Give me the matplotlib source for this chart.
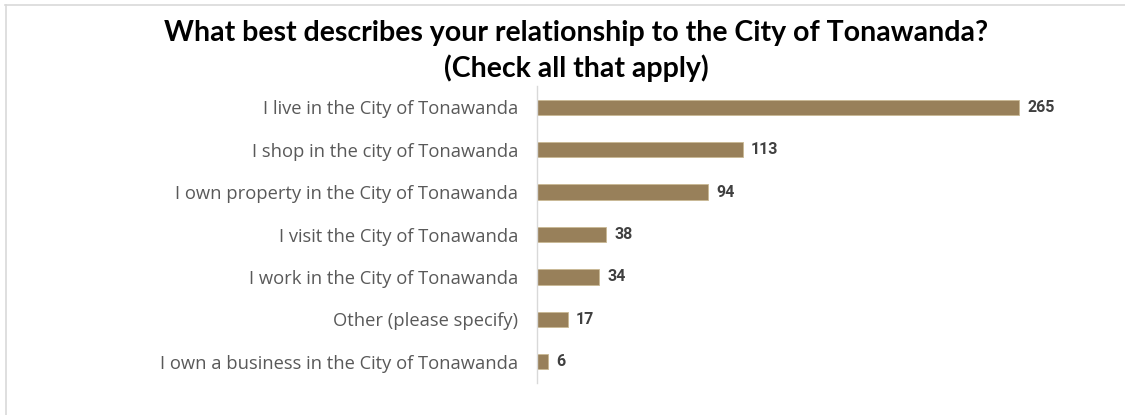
import matplotlib.pyplot as plt
from matplotlib.lines import Line2D

# データ
categories = [
    "I live in the City of Tonawanda",
    "I shop in the city of Tonawanda",
    "I own property in the City of Tonawanda",
    "I visit the City of Tonawanda",
    "I work in the City of Tonawanda",
    "Other (please specify)",
    "I own a business in the City of Tonawanda",
]
counts = [265, 113, 94, 38, 34, 17, 6]

title = "What best describes your relationship to the City of Tonawanda?\n(Check all that apply)"

bar_color = "#98805A"

fig = plt.figure(figsize=(11.25, 4.15), dpi=100)
ax = fig.add_axes([537 / 1125, 1 - 383 / 415, (1085 - 537) / 1125, (383 - 86) / 415])

y = list(range(len(categories)))
ax.barh(y, counts, height=0.36, color=bar_color, edgecolor="#C9B894", linewidth=0.6)
ax.set_ylim(len(categories) - 0.5, -0.5)
ax.set_xlim(0, 301)

ax.set_yticks(y)
ax.set_yticklabels(categories, fontsize=13.2, color="#595959", family="Open Sans")
ax.tick_params(axis="y", length=0, pad=13.5)
ax.set_xticks([])

for s in ["top", "right", "bottom"]:
    ax.spines[s].set_visible(False)
ax.spines["left"].set_color("#D9D9D9")
ax.spines["left"].set_linewidth(1.0)

for yi, v in zip(y, counts):
    ax.text(v + 4.5, yi, str(v), va="center", ha="left", fontsize=11.5,
            fontweight="bold", color="#404040", family="Roboto")

fig.text(576 / 1125, 1 - 51 / 415, title, ha="center", va="center", fontsize=20.5,
         fontweight="bold", color="black", family="Lato", linespacing=1.4)

# 枠線
fig.add_artist(Line2D([5 / 1125, 1], [1 - 5 / 415, 1 - 5 / 415], color="#D9D9D9", lw=1.2))
fig.add_artist(Line2D([6 / 1125, 6 / 1125], [0, 1 - 5 / 415], color="#D9D9D9", lw=1.2))

fig.savefig("out.png", dpi=100, facecolor="white")
